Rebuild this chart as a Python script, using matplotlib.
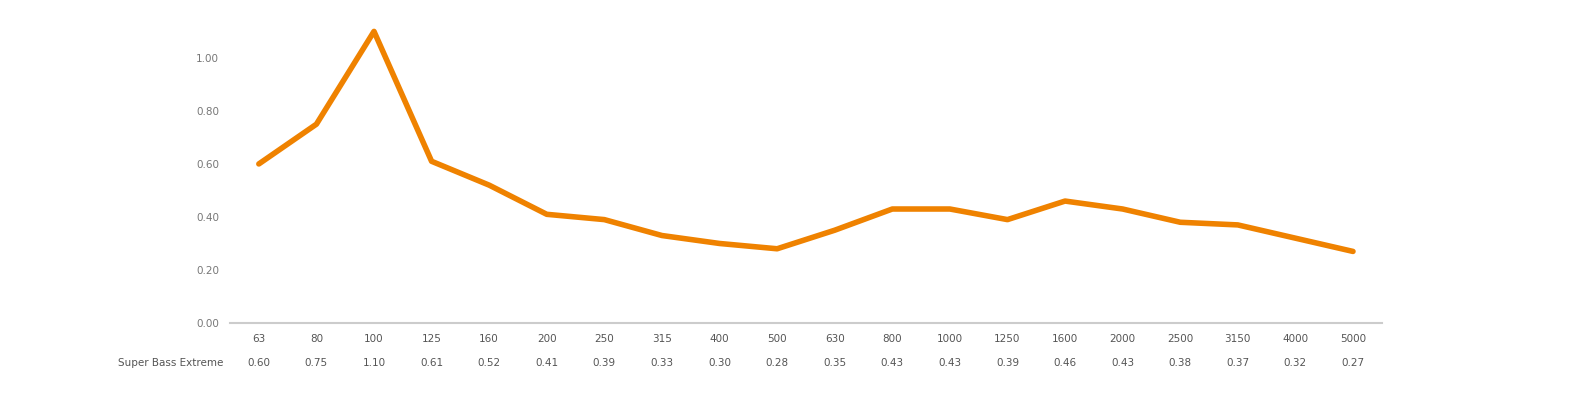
import matplotlib
matplotlib.use("Agg")
import matplotlib.pyplot as plt

categories = ["63","80","100","125","160","200","250","315","400","500","630","800","1000","1250","1600","2000","2500","3150","4000","5000"]
values = [0.60,0.75,1.10,0.61,0.52,0.41,0.39,0.33,0.30,0.28,0.35,0.43,0.43,0.39,0.46,0.43,0.38,0.37,0.32,0.27]
series_name = "Super Bass Extreme"
yticks = [0.0,0.2,0.4,0.6,0.8,1.0]

fig = plt.figure(figsize=(15.81,4.03), dpi=100)
ax = fig.add_axes([0.1455, 0.1985, 0.7285, 0.7565])
x = list(range(len(categories)))
ax.plot(x, values, color="#EF8200", lw=4, solid_joinstyle="round", solid_capstyle="round")
ax.set_xlim(-0.5, len(categories)-0.5)
ax.set_ylim(0, 1.15)
ax.set_yticks(yticks)
ax.set_yticklabels([f"{v:.2f}" for v in yticks], color="#777777", fontsize=7.5)
ax.set_xticks(x)
ax.set_xticklabels(categories, color="#555555", fontsize=7.5)
ax.tick_params(axis="both", length=0, pad=8)
for s in ["top","right","left"]:
    ax.spines[s].set_visible(False)
ax.spines["bottom"].set_color("#cccccc")
ax.spines["bottom"].set_linewidth(1.5)
trans = ax.get_xaxis_transform()
for xi, v in zip(x, values):
    ax.text(xi, -0.13, f"{v:.2f}", transform=trans, ha="center", va="center", fontsize=7.5, color="#555555")
ax.text(-0.006, -0.13, series_name, transform=ax.transAxes, ha="right", va="center", fontsize=7.5, color="#555555")
fig.savefig("out.png", dpi=100)
